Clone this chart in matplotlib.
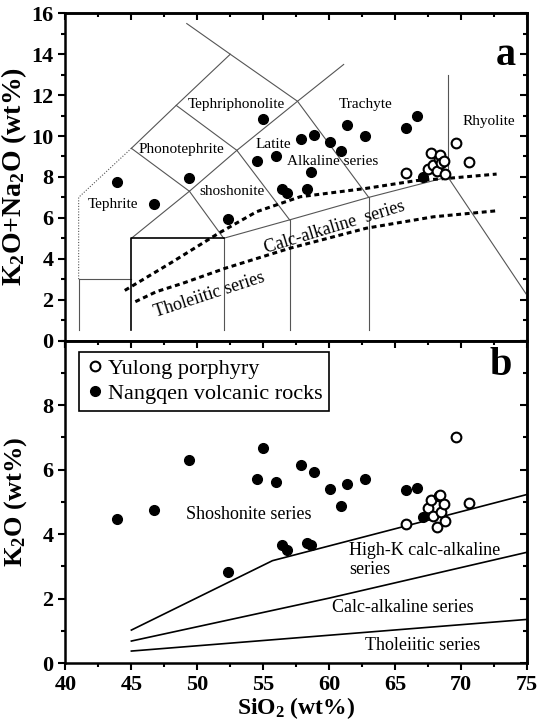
import numpy as np
import matplotlib
matplotlib.use('Agg')
import matplotlib.pyplot as plt
from matplotlib.ticker import MultipleLocator
from matplotlib.lines import Line2D

plt.rcParams['font.family'] = 'Liberation Serif'
plt.rcParams['mathtext.fontset'] = 'custom'
plt.rcParams['mathtext.rm'] = 'Liberation Serif:bold'
plt.rcParams['mathtext.default'] = 'rm'

# Nangqen volcanic rocks (filled)
nq_sio2 = [43.9, 46.75, 49.4, 52.3, 54.5, 55.0, 56.0, 56.4, 56.8, 57.9,
           58.3, 58.65, 58.85, 60.1, 60.9, 61.35, 62.7, 65.8, 66.7, 67.15]
nq_alk = [7.76, 6.70, 7.93, 5.93, 8.76, 10.81, 9.04, 7.40, 7.19, 9.86,
          7.40, 8.22, 10.06, 9.70, 9.29, 10.55, 10.02, 10.38, 11.00, 7.98]
nq_k2o = [4.47, 4.75, 6.30, 2.82, 5.71, 6.66, 5.61, 3.66, 3.51, 6.14,
          3.74, 3.66, 5.93, 5.40, 4.88, 5.55, 5.71, 5.37, 5.42, 4.52]

# Yulong porphyry (open)
yl_sio2 = [65.8, 67.5, 67.7, 67.9, 68.2, 68.3, 68.4, 68.5, 68.7, 68.8, 69.6, 70.6]
yl_alk = [8.2, 8.4, 9.15, 8.6, 8.3, 8.9, 9.05, 8.7, 8.8, 8.15, 9.65, 8.75]
yl_k2o = [4.33, 4.8, 5.05, 4.55, 4.23, 5.18, 5.2, 4.7, 4.95, 4.4, 7.02, 4.97]

# TAS field boundaries
tas_gray = [
    [(41, 0.5), (41, 3)],
    [(41, 3), (45, 3)],
    [(52, 0.5), (52, 5)],
    [(57, 0.5), (57, 5.9)],
    [(63, 0.5), (63, 7)],
    [(52, 5), (57, 5.9), (63, 7), (69, 8)],
    [(69, 8), (69, 13)],
    [(69, 8), (77.3, 0)],
    [(45, 5), (49.4, 7.3), (53, 9.3), (57.6, 11.7), (61.1, 13.5)],
    [(45, 9.4), (48.4, 11.5), (52.5, 14), (49.2, 15.5)],
    [(52.5, 14), (57.6, 11.7), (63, 7)],
    [(49.4, 7.3), (52, 5)],
    [(53, 9.3), (57, 5.9)],
    [(48.4, 11.5), (53, 9.3)],
    [(45, 9.4), (49.4, 7.3)],
]
tas_black = [[(45, 0.5), (45, 5), (52, 5)]]
tas_dotted = [[(41, 3), (41, 7), (45, 9.4)]]

# Irvine & Baragar dashed lines
alk_x = [44.5, 48.0, 51.6, 54.5, 57.8, 62.8, 66.6, 69.0, 72.7]
alk_y = [2.45, 3.80, 5.24, 6.30, 7.03, 7.44, 7.82, 7.93, 8.14]
thol_x = [45.3, 46.9, 48.9, 52.1, 57.0, 62.8, 67.9, 72.8]
thol_y = [1.90, 2.39, 2.80, 3.53, 4.51, 5.49, 6.05, 6.35]

# K2O-SiO2 boundaries
sho_x = [45, 55.7, 75]
sho_y = [1.03, 3.18, 5.23]
hk_x = [45, 60, 75]
hk_y = [0.69, 2.02, 3.44]
ca_x = [45, 75]
ca_y = [0.38, 1.36]

fig = plt.figure(figsize=(5.41, 7.21), dpi=100)
ax1 = fig.add_axes([0.121, 0.5277, 0.853, 0.4538])
ax2 = fig.add_axes([0.121, 0.080, 0.853, 0.4477])

for seg in tas_gray:
    xs, ys = zip(*seg)
    ax1.plot(xs, ys, color='#555555', lw=0.8, zorder=2)
for seg in tas_black:
    xs, ys = zip(*seg)
    ax1.plot(xs, ys, color='black', lw=1.2, zorder=2)
for seg in tas_dotted:
    xs, ys = zip(*seg)
    ax1.plot(xs, ys, color='#555555', lw=0.8, ls=(0, (1, 1.5)), zorder=2)

ax1.plot(alk_x, alk_y, color='black', lw=2.2, ls=(0, (1.6, 1.2)), zorder=3)
ax1.plot(thol_x, thol_y, color='black', lw=2.2, ls=(0, (1.6, 1.2)), zorder=3)

ms = 7
ax1.plot(nq_sio2, nq_alk, 'o', ms=ms, mfc='black', mec='black', zorder=5)
ax1.plot(yl_sio2, yl_alk, 'o', ms=ms, mfc='white', mec='black', mew=1.5, zorder=6)

tfs = 11
ax1.text(53.0, 11.55, 'Tephriphonolite', fontsize=tfs, ha='center', va='center')
ax1.text(62.8, 11.55, 'Trachyte', fontsize=tfs, ha='center', va='center')
ax1.text(72.1, 10.7, 'Rhyolite', fontsize=tfs, ha='center', va='center')
ax1.text(48.8, 9.35, 'Phonotephrite', fontsize=tfs, ha='center', va='center')
ax1.text(55.8, 9.6, 'Latite', fontsize=tfs, ha='center', va='center')
ax1.text(60.3, 8.75, 'Alkaline series', fontsize=tfs, ha='center', va='center')
ax1.text(52.6, 7.27, 'shoshonite', fontsize=tfs, ha='center', va='center')
ax1.text(43.6, 6.67, 'Tephrite', fontsize=tfs, ha='center', va='center')
ax1.text(60.4, 5.55, 'Calc-alkaline  series', fontsize=13, ha='center', va='center',
         rotation=17)
ax1.text(50.9, 2.25, 'Tholeiitic series', fontsize=13, ha='center', va='center',
         rotation=18)
ax1.text(73.4, 13.95, 'a', fontsize=29, fontweight='bold', ha='center', va='center')

ax2.plot(sho_x, sho_y, color='black', lw=1.2)
ax2.plot(hk_x, hk_y, color='black', lw=1.2)
ax2.plot(ca_x, ca_y, color='black', lw=1.2)
ax2.plot(nq_sio2, nq_k2o, 'o', ms=ms, mfc='black', mec='black', zorder=5)
ax2.plot(yl_sio2, yl_k2o, 'o', ms=ms, mfc='white', mec='black', mew=1.5, zorder=6)

bfs = 13
ax2.text(53.9, 4.6, 'Shoshonite series', fontsize=bfs, ha='center', va='center')
ax2.text(61.5, 3.5, 'High-K calc-alkaline', fontsize=bfs, ha='left', va='center')
ax2.text(61.5, 2.92, 'series', fontsize=bfs, ha='left', va='center')
ax2.text(65.6, 1.73, 'Calc-alkaline series', fontsize=bfs, ha='center', va='center')
ax2.text(67.1, 0.55, 'Tholeiitic series', fontsize=bfs, ha='center', va='center')
ax2.text(73.0, 9.24, 'b', fontsize=29, fontweight='bold', ha='center', va='center')

handles = [Line2D([], [], ls='none', marker='o', ms=ms, mfc='white', mec='black', mew=1.5),
           Line2D([], [], ls='none', marker='o', ms=ms, mfc='black', mec='black')]
leg = ax2.legend(handles, ['Yulong porphyry', 'Nangqen volcanic rocks'],
                 loc='upper left', bbox_to_anchor=(0.03, 0.965), fontsize=16,
                 fancybox=False, framealpha=1, edgecolor='black',
                 handletextpad=0.2, handlelength=0.8, borderpad=0.3,
                 labelspacing=0.2, borderaxespad=0)
leg.get_frame().set_linewidth(1.2)

for ax, ymax, ymaj in [(ax1, 16, 2), (ax2, 10, 2)]:
    ax.set_xlim(40, 75)
    ax.set_ylim(0, ymax)
    ax.xaxis.set_major_locator(MultipleLocator(5))
    ax.xaxis.set_minor_locator(MultipleLocator(2.5))
    ax.yaxis.set_major_locator(MultipleLocator(ymaj))
    ax.yaxis.set_minor_locator(MultipleLocator(1))
    ax.tick_params(which='both', direction='out', width=1.5, labelsize=16)
    ax.tick_params(which='major', length=5)
    ax.tick_params(which='minor', length=3)
    for sp in ax.spines.values():
        sp.set_linewidth(1.8)
    for lab in ax.get_xticklabels() + ax.get_yticklabels():
        lab.set_fontweight('bold')
    secx = ax.secondary_xaxis('top')
    secx.xaxis.set_major_locator(MultipleLocator(5))
    secx.xaxis.set_minor_locator(MultipleLocator(2.5))
    secx.tick_params(which='both', direction='in', width=1.5, labeltop=False)
    secx.tick_params(which='major', length=5)
    secx.tick_params(which='minor', length=3)
    secx.spines['top'].set_linewidth(1.8)
    secy = ax.secondary_yaxis('right')
    secy.yaxis.set_major_locator(MultipleLocator(ymaj))
    secy.yaxis.set_minor_locator(MultipleLocator(1))
    secy.tick_params(which='both', direction='in', width=1.5, labelright=False)
    secy.tick_params(which='major', length=5)
    secy.tick_params(which='minor', length=3)
    secy.spines['right'].set_linewidth(1.8)

ax1.tick_params(labelbottom=False)
ax2.set_yticks([0, 2, 4, 6, 8])
ax2.yaxis.set_minor_locator(MultipleLocator(1))
for lab in ax2.get_yticklabels():
    lab.set_fontweight('bold')

ax1.set_ylabel(r'K$_2$O+Na$_2$O (wt%)', fontsize=20, fontweight='bold')
ax1.yaxis.set_label_coords(-0.078, 0.5)
ax2.set_ylabel(r'K$_2$O (wt%)', fontsize=19, fontweight='bold')
ax2.yaxis.set_label_coords(-0.078, 0.5)
ax2.set_xlabel(r'SiO$_2$ (wt%)', fontsize=17, fontweight='bold', labelpad=0)

fig.savefig('out.png', dpi=100)
